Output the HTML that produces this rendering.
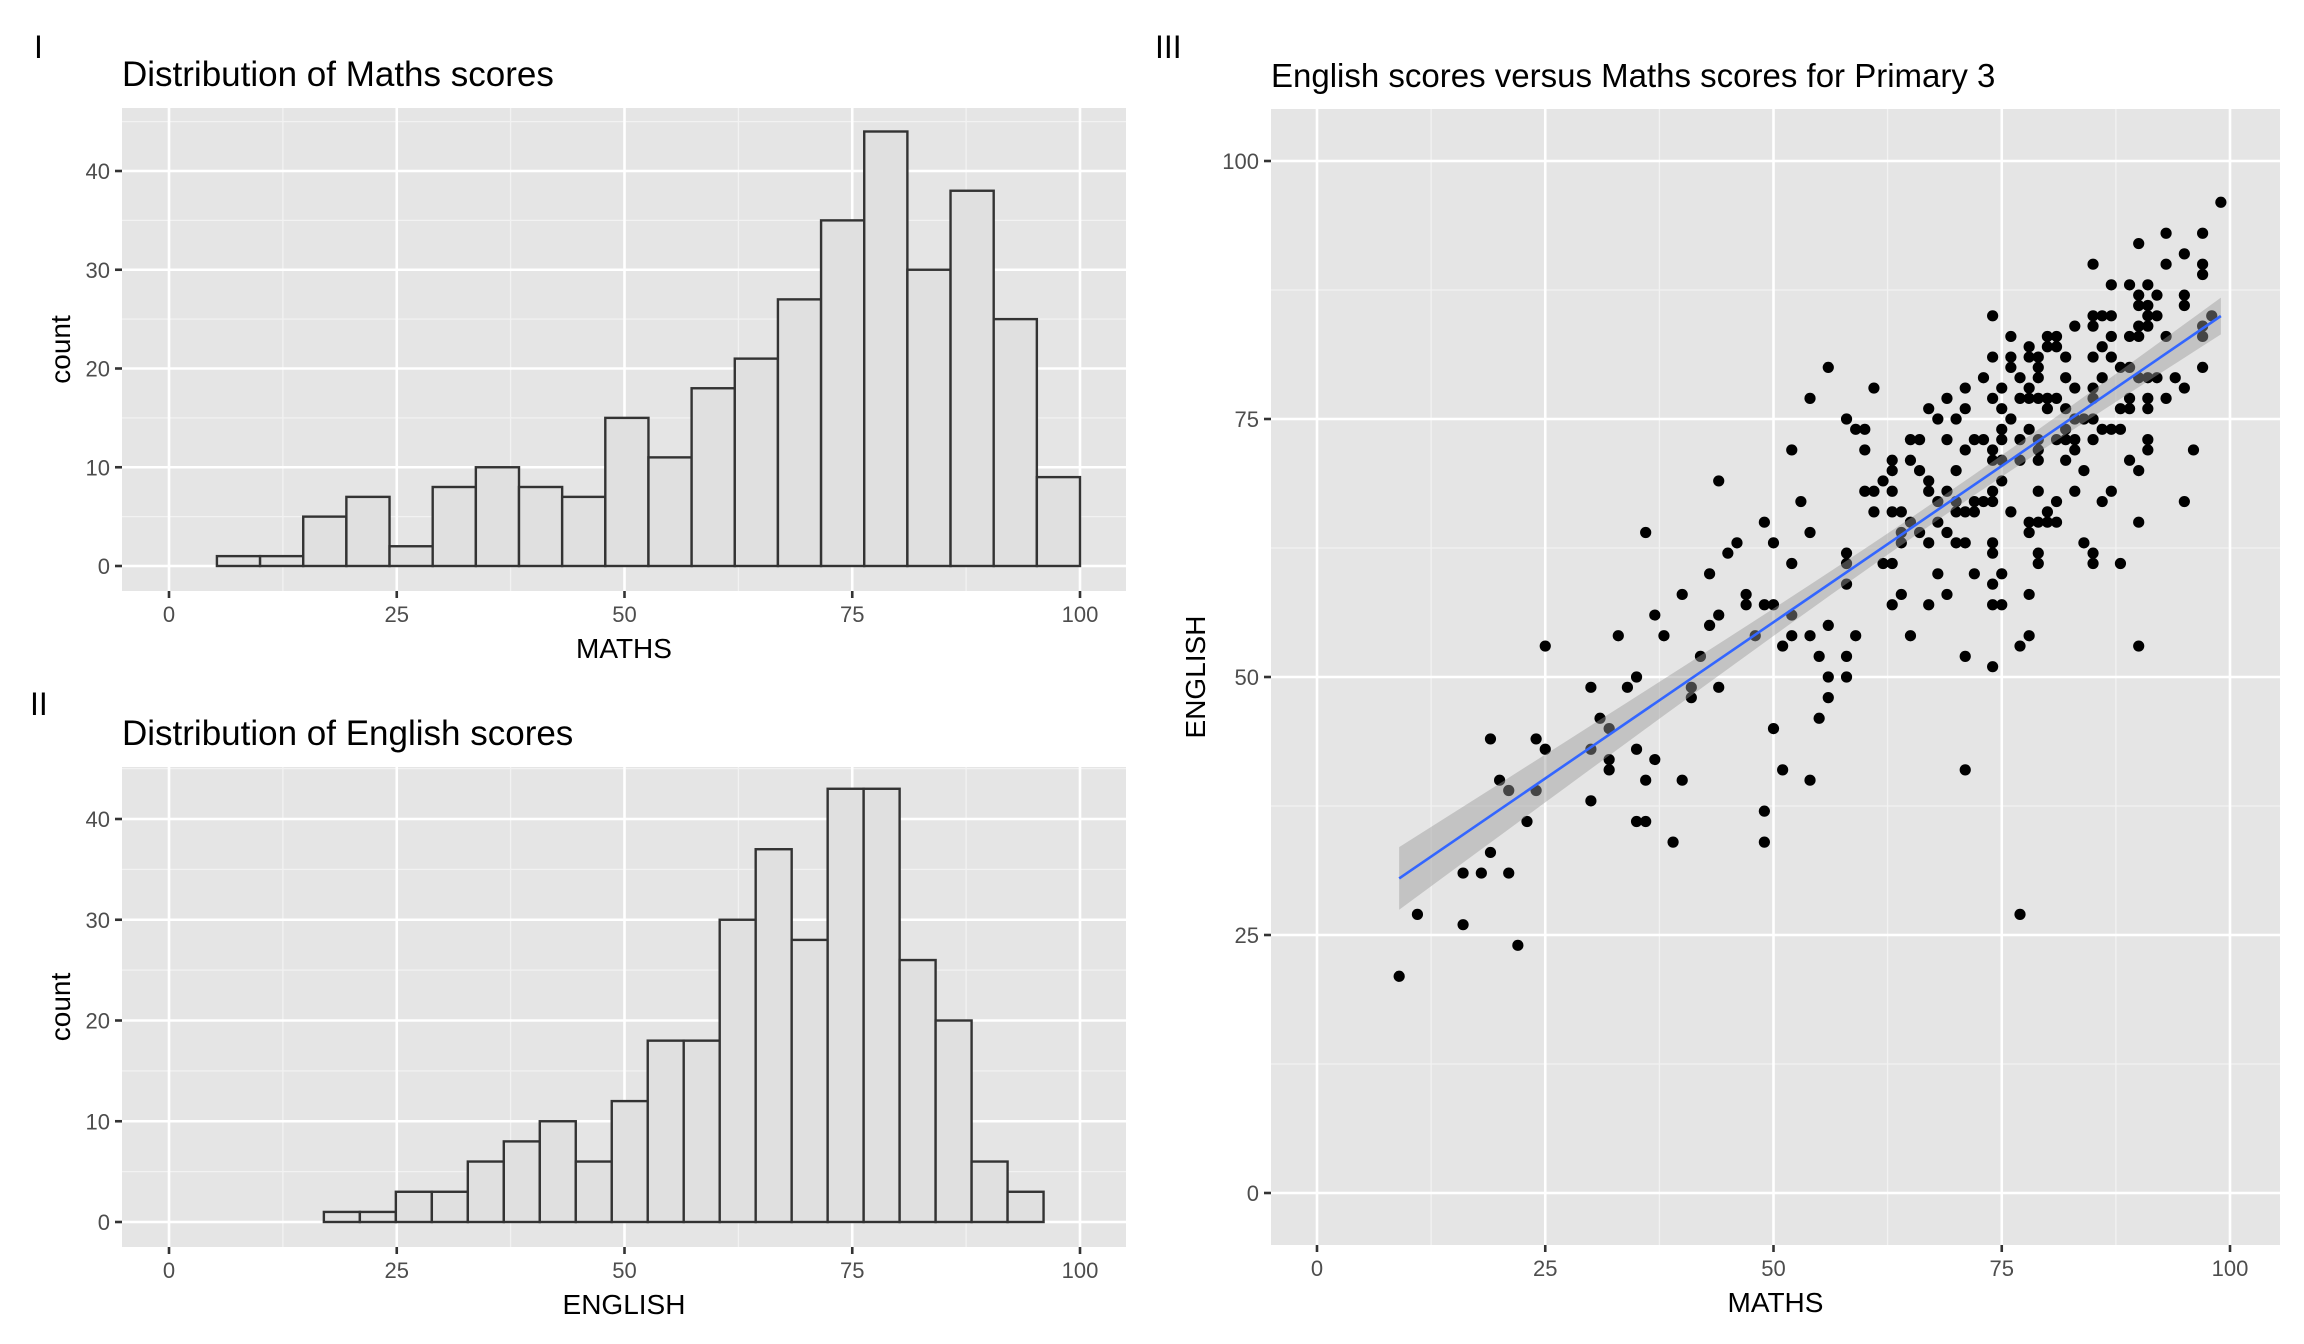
<!DOCTYPE html>
<html><head><meta charset="utf-8"><style>
html,body{margin:0;padding:0;background:#fff;}
svg{display:block;font-family:"Liberation Sans",Arial,sans-serif;}
</style></head><body>
<svg id="chart" width="2304" height="1344" viewBox="0 0 2304 1344" xmlns="http://www.w3.org/2000/svg"></svg>
<script>
// ---- Data ----
const mathsBinStart = 5.26;
const mathsBinWidth = 4.737;
const mathsCounts = [1,1,5,7,2,8,10,8,7,15,11,18,21,27,35,44,30,38,25,9];
const englishBinStart = 17;
const englishBinWidth = 3.95;
const englishCounts = [1,1,3,3,6,8,10,6,12,18,18,30,37,28,43,43,26,20,6,3];
const histXTicks = [0,25,50,75,100];
const histYTicks = [0,10,20,30,40];
const scatterTicks = [0,25,50,75,100];
const scatterMaths = [9,11,16,16,18,19,19,20,21,21,22,23,24,24,25,25,30,30,30,31,32,32,32,33,34,35,35,35,36,36,36,37,37,38,39,40,40,41,41,42,43,43,44,44,44,45,46,47,47,48,49,49,49,49,50,50,50,51,51,52,52,52,52,53,54,54,54,54,55,55,56,56,56,56,58,58,58,58,58,58,59,59,60,60,60,61,61,61,62,62,63,63,63,63,63,63,64,64,64,64,65,65,65,65,66,66,66,67,67,67,67,67,68,68,68,68,69,69,69,69,69,70,70,70,70,70,71,71,71,71,71,71,71,72,72,72,72,73,73,73,74,74,74,74,74,74,74,74,74,74,74,74,75,75,75,75,75,75,75,75,76,76,76,76,76,77,77,77,77,77,77,78,78,78,78,78,78,78,78,78,79,79,79,79,79,79,79,79,79,79,79,80,80,80,80,80,80,81,81,81,81,81,81,82,82,82,82,82,82,83,83,83,83,83,83,84,84,84,85,85,85,85,85,85,85,85,85,85,86,86,86,86,86,87,87,87,87,87,87,88,88,88,88,89,89,89,89,89,89,90,90,90,90,90,90,90,90,90,91,91,91,91,91,91,91,91,91,92,92,92,93,93,93,93,94,95,95,95,95,95,96,97,97,97,97,97,97,98,99];
const scatterEnglish = [21,27,31,26,31,44,33,40,39,31,24,36,44,39,53,43,49,43,38,46,45,42,41,54,49,50,43,36,64,40,36,56,42,54,34,58,40,49,48,52,60,55,69,56,49,62,63,58,57,54,65,57,37,34,63,57,45,53,41,72,61,56,54,67,77,64,54,40,52,46,80,55,50,48,75,62,61,59,52,50,74,54,74,72,68,78,68,66,69,61,71,70,68,66,61,57,66,64,63,58,73,71,65,54,73,70,64,76,69,68,63,57,75,67,65,60,77,73,68,64,58,75,70,67,66,63,78,76,72,66,63,52,41,73,67,66,60,79,73,67,85,81,77,72,71,68,67,63,62,59,57,51,78,76,74,73,71,69,60,57,83,81,80,75,66,79,77,73,71,53,27,82,81,78,77,74,65,64,58,54,81,80,79,77,73,72,71,68,65,62,61,83,82,77,76,66,65,83,82,77,73,67,65,81,79,76,74,73,71,84,78,75,73,72,68,75,70,63,90,85,84,81,78,77,75,73,62,61,85,82,79,74,67,88,85,83,81,74,68,80,76,74,61,88,83,80,77,76,71,92,87,86,84,83,79,70,65,53,88,86,85,84,79,77,76,73,72,87,85,79,93,90,83,77,79,91,87,86,78,67,72,93,90,89,84,83,80,85,96];

const svg = document.getElementById('chart');
const NS = 'http://www.w3.org/2000/svg';
function mk(tag, attrs, parent){const e=document.createElementNS(NS,tag);for(const k in attrs)e.setAttribute(k,attrs[k]);(parent||svg).appendChild(e);return e;}

function panel(cfg){
  const g = mk('g',{});
  
  
  const bg = mk('rect',{x:cfg.L,y:cfg.T,width:cfg.R-cfg.L,height:cfg.B-cfg.T,fill:'#E5E5E5'},g);
  
  
  const sx = v => cfg.x0 + (v - 0) * (cfg.x100 - cfg.x0) / 100;
  const sy = v => cfg.y0 + v * (cfg.yTop - cfg.y0) / cfg.yTopVal;
  for (let i=0;i<cfg.xTicks.length-1;i++){
    const m=(cfg.xTicks[i]+cfg.xTicks[i+1])/2;
    mk('line',{x1:sx(m),x2:sx(m),y1:cfg.T,y2:cfg.B,stroke:'#F2F2F2','stroke-width':1.3},g);
  }
  const ym = cfg.yTicks.slice();
  const step = ym[1]-ym[0];
  for (let v=ym[0]-step/2; v<=cfg.yMaxVis; v+=step){
    if (sy(v)>cfg.T && sy(v)<cfg.B) mk('line',{x1:cfg.L,x2:cfg.R,y1:sy(v),y2:sy(v),stroke:'#F2F2F2','stroke-width':1.3},g);
  }
  cfg.xTicks.forEach(v=>{
    mk('line',{x1:sx(v),x2:sx(v),y1:cfg.T,y2:cfg.B,stroke:'#FFFFFF','stroke-width':2.6},g);
    mk('line',{x1:sx(v),x2:sx(v),y1:cfg.B,y2:cfg.B+7,stroke:'#333','stroke-width':2.6},g);
    const t=mk('text',{x:sx(v),y:cfg.B+31,'text-anchor':'middle','font-size':22,fill:'#4D4D4D'},g);
    t.textContent=v;
    
    
  });
  cfg.yTicks.forEach(v=>{
    mk('line',{x1:cfg.L,x2:cfg.R,y1:sy(v),y2:sy(v),stroke:'#FFFFFF','stroke-width':2.6},g);
    mk('line',{x1:cfg.L-7,x2:cfg.L,y1:sy(v),y2:sy(v),stroke:'#333','stroke-width':2.6},g);
    const t=mk('text',{x:cfg.L-12,y:sy(v)+8,'text-anchor':'end','font-size':22,fill:'#4D4D4D'},g);
    t.textContent=v;
    
    
  });
  const tt=mk('text',{x:cfg.L,y:cfg.T-22,'font-size':cfg.titleSize,fill:'#000'},g);
  tt.textContent=cfg.title;
  
  
  const tag=mk('text',{x:cfg.tagX,y:cfg.tagY,'font-size':32,fill:'#000'},g);
  tag.textContent=cfg.tag;
  
  
  const xt=mk('text',{x:(cfg.L+cfg.R)/2,y:cfg.B+67,'text-anchor':'middle','font-size':28,fill:'#000'},g);
  xt.textContent=cfg.xTitle;
  
  
  const cy=(cfg.T+cfg.B)/2;
  const yt=mk('text',{x:cfg.yTitleX,y:cy,'text-anchor':'middle','font-size':28,fill:'#000',transform:`rotate(-90 ${cfg.yTitleX} ${cy})`},g);
  yt.textContent=cfg.yTitle;
  
  
  return {g,sx,sy};
}

function hist(cfg, start, width, counts){
  const p = panel(cfg);
  counts.forEach((c,i)=>{
    const x1=p.sx(start+i*width), x2=p.sx(start+(i+1)*width);
    const r=mk('rect',{x:x1,y:p.sy(c),width:x2-x1,height:p.sy(0)-p.sy(c),fill:'#E0E0E0',stroke:'#333333','stroke-width':2.4},p.g);
    
    
  });
}

hist({name:'maths-histogram',L:122,R:1126,T:108,B:591,x0:169,x100:1080,y0:566,yTop:171,yTopVal:40,yMaxVis:50,titleSize:35,
  xTicks:histXTicks,yTicks:histYTicks,title:'Distribution of Maths scores',tag:'I',tagX:34,tagY:58,xTitle:'MATHS',yTitle:'count',yTitleX:70},
  mathsBinStart, mathsBinWidth, mathsCounts);
hist({name:'english-histogram',L:122,R:1126,T:767,B:1247,x0:169,x100:1080,y0:1222,yTop:819,yTopVal:40,yMaxVis:50,titleSize:35,
  xTicks:histXTicks,yTicks:histYTicks,title:'Distribution of English scores',tag:'II',tagX:30,tagY:715,xTitle:'ENGLISH',yTitle:'count',yTitleX:70},
  englishBinStart, englishBinWidth, englishCounts);

const sp = panel({name:'scatter-panel',L:1271,R:2280,T:109,B:1245,x0:1317,x100:2230,y0:1193,yTop:161,yTopVal:100,yMaxVis:110,titleSize:33,
  xTicks:scatterTicks,yTicks:scatterTicks,title:'English scores versus Maths scores for Primary 3',tag:'III',tagX:1155,tagY:58,xTitle:'MATHS',yTitle:'ENGLISH',yTitleX:1205});
scatterMaths.forEach((m,i)=>{
  const c=mk('circle',{cx:sp.sx(m),cy:sp.sy(scatterEnglish[i]),r:5.6,fill:'#000'},sp.g);
  
  
});
(function(){
  const n=scatterMaths.length;
  const mx=scatterMaths.reduce((a,b)=>a+b,0)/n, my=scatterEnglish.reduce((a,b)=>a+b,0)/n;
  let sxx=0,sxy=0;
  for(let i=0;i<n;i++){sxx+=(scatterMaths[i]-mx)**2;sxy+=(scatterMaths[i]-mx)*(scatterEnglish[i]-my);}
  const b=sxy/sxx,a=my-b*mx;
  let sse=0;for(let i=0;i<n;i++){sse+=(scatterEnglish[i]-a-b*scatterMaths[i])**2;}
  const s=Math.sqrt(sse/(n-2));
  const xmin=Math.min(...scatterMaths), xmax=Math.max(...scatterMaths);
  const up=[],lo=[];
  for(let k=0;k<=40;k++){
    const x=xmin+(xmax-xmin)*k/40;
    const se=1.97*s*Math.sqrt(1/n+(x-mx)**2/sxx);
    up.push(sp.sx(x)+','+sp.sy(a+b*x+se));
    lo.unshift(sp.sx(x)+','+sp.sy(a+b*x-se));
  }
  const band=mk('polygon',{points:up.concat(lo).join(' '),fill:'#999999','fill-opacity':0.45},sp.g);
  
  
  const ln=mk('line',{x1:sp.sx(xmin),y1:sp.sy(a+b*xmin),x2:sp.sx(xmax),y2:sp.sy(a+b*xmax),stroke:'#3366FF','stroke-width':2.6},sp.g);
  
  
})();
</script>
</body></html>
